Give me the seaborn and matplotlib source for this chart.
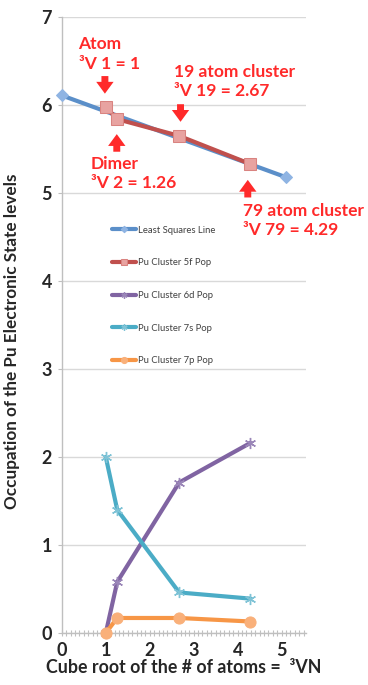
import matplotlib
matplotlib.use("Agg")
import matplotlib.pyplot as plt
import seaborn as sns
import pandas as pd
import numpy as np
from matplotlib.ticker import MultipleLocator

# ---- data ----
lsq_x = [0.0, 5.1]
lsq_y = [6.11, 5.18]
cluster_x = [1.0, 1.26, 2.67, 4.29]
pop_5f = [5.98, 5.84, 5.65, 5.33]
pop_6d = [0.0, 0.58, 1.71, 2.16]
pop_7s = [2.0, 1.40, 0.46, 0.39]
pop_7p = [0.0, 0.17, 0.17, 0.13]
x_ticks = [0, 1, 2, 3, 4, 5]
y_ticks = [0, 1, 2, 3, 4, 5, 6, 7]

series_names = ["Least Squares Line", "Pu Cluster 5f Pop", "Pu Cluster 6d Pop",
                "Pu Cluster 7s Pop", "Pu Cluster 7p Pop"]

sns.set_style("white")
plt.rcParams['font.family'] = ['Lato', 'DejaVu Sans']

fig = plt.figure(figsize=(3.68, 6.85), dpi=100)
ax = fig.add_axes([0.168, 0.076, 0.663, 0.899])

red = '#ff2a2a'
star = (6, 2, 0)

styles = {
    "Least Squares Line": dict(color='#5b8fc9', marker='D', ms=6, mfc='#8fb4e3', mec='#8fb4e3', lw=3),
    "Pu Cluster 5f Pop": dict(color='#c0504d', marker='s', ms=9, mfc='#e8a3a1', mec='#d98380', lw=3),
    "Pu Cluster 6d Pop": dict(color='#8064a2', marker=star, ms=8, mfc='#8064a2', mec='#9a86b8', lw=3, mew=1),
    "Pu Cluster 7s Pop": dict(color='#4bacc6', marker=star, ms=8, mfc='#4bacc6', mec='#7fc3d6', lw=3, mew=1),
    "Pu Cluster 7p Pop": dict(color='#f79646', marker='o', ms=8, mfc='#f9b07a', mec='#f9b07a', lw=3),
}

data = {
    "Least Squares Line": (lsq_x, lsq_y),
    "Pu Cluster 5f Pop": (cluster_x, pop_5f),
    "Pu Cluster 6d Pop": (cluster_x, pop_6d),
    "Pu Cluster 7s Pop": (cluster_x, pop_7s),
    "Pu Cluster 7p Pop": (cluster_x, pop_7p),
}

for name in series_names:
    xs, ys = data[name]
    st = styles[name]
    sns.lineplot(x=xs, y=ys, ax=ax, label=name, sort=False, zorder=3, clip_on=False, **st)

ax.set_xlim(0, 5.55)
ax.set_ylim(0, 7)
ax.set_xticks(x_ticks)
ax.set_yticks(y_ticks)
ax.xaxis.set_minor_locator(MultipleLocator(0.1))
ax.yaxis.grid(True, color='#d9d9d9', lw=1)
ax.xaxis.grid(False)
for s in ['top', 'right']:
    ax.spines[s].set_visible(False)
for s in ['left', 'bottom']:
    ax.spines[s].set_color('#bfbfbf')
    ax.spines[s].set_linewidth(1)
ax.tick_params(axis='x', which='minor', direction='inout', length=4, color='#bfbfbf', width=0.8, bottom=True)
ax.tick_params(axis='x', which='major', direction='inout', length=5, color='#bfbfbf', bottom=True)
ax.tick_params(axis='y', which='major', direction='out', length=3, color='#bfbfbf', left=True)
ax.tick_params(axis='both', labelsize=13, pad=4)
for lab in ax.get_xticklabels() + ax.get_yticklabels():
    lab.set_fontweight('bold')

ax.set_xlabel("Cube root of the # of atoms =  \u00b3VN", fontsize=12.8, fontweight='bold', labelpad=0)
ax.set_ylabel("Occupation of the Pu Electronic State levels", fontsize=12.3, fontweight='bold')
ax.yaxis.set_label_coords(-0.17, 0.474)

leg = ax.legend(loc='upper left', bbox_to_anchor=(0.17, 0.675), frameon=False,
                fontsize=6.8, labelcolor='#404040', handlelength=2.6, labelspacing=2.5,
                markerscale=0.55, handletextpad=0.2)

# ---- annotations ----
fs = 12.5
ax.text(0.38, 6.78, "Atom\n\u00b3V 1 = 1", color=red, fontsize=fs, fontweight='bold', va='top', ha='left', linespacing=1.25)
ax.text(2.55, 6.47, "19 atom cluster\n\u00b3V 19 = 2.67", color=red, fontsize=fs, fontweight='bold', va='top', ha='left', linespacing=1.25)
ax.text(0.66, 5.42, "Dimer\n\u00b3V 2 = 1.26", color=red, fontsize=fs, fontweight='bold', va='top', ha='left', linespacing=1.25)
ax.text(4.11, 4.89, "79 atom cluster\n\u00b3V 79 = 4.29", color=red, fontsize=fs, fontweight='bold', va='top', ha='left', linespacing=1.25)

ap = dict(arrowstyle='simple,head_width=1.25,head_length=0.85,tail_width=0.5', color=red, lw=0,
          shrinkA=0, shrinkB=0)
ax.annotate("", xy=(0.98, 6.13), xytext=(0.98, 6.33), arrowprops=ap)
ax.annotate("", xy=(2.70, 5.81), xytext=(2.70, 6.01), arrowprops=ap)
ax.annotate("", xy=(1.25, 5.67), xytext=(1.25, 5.47), arrowprops=ap)
ax.annotate("", xy=(4.23, 5.15), xytext=(4.23, 4.95), arrowprops=ap)

fig.savefig("out.png", dpi=100)
